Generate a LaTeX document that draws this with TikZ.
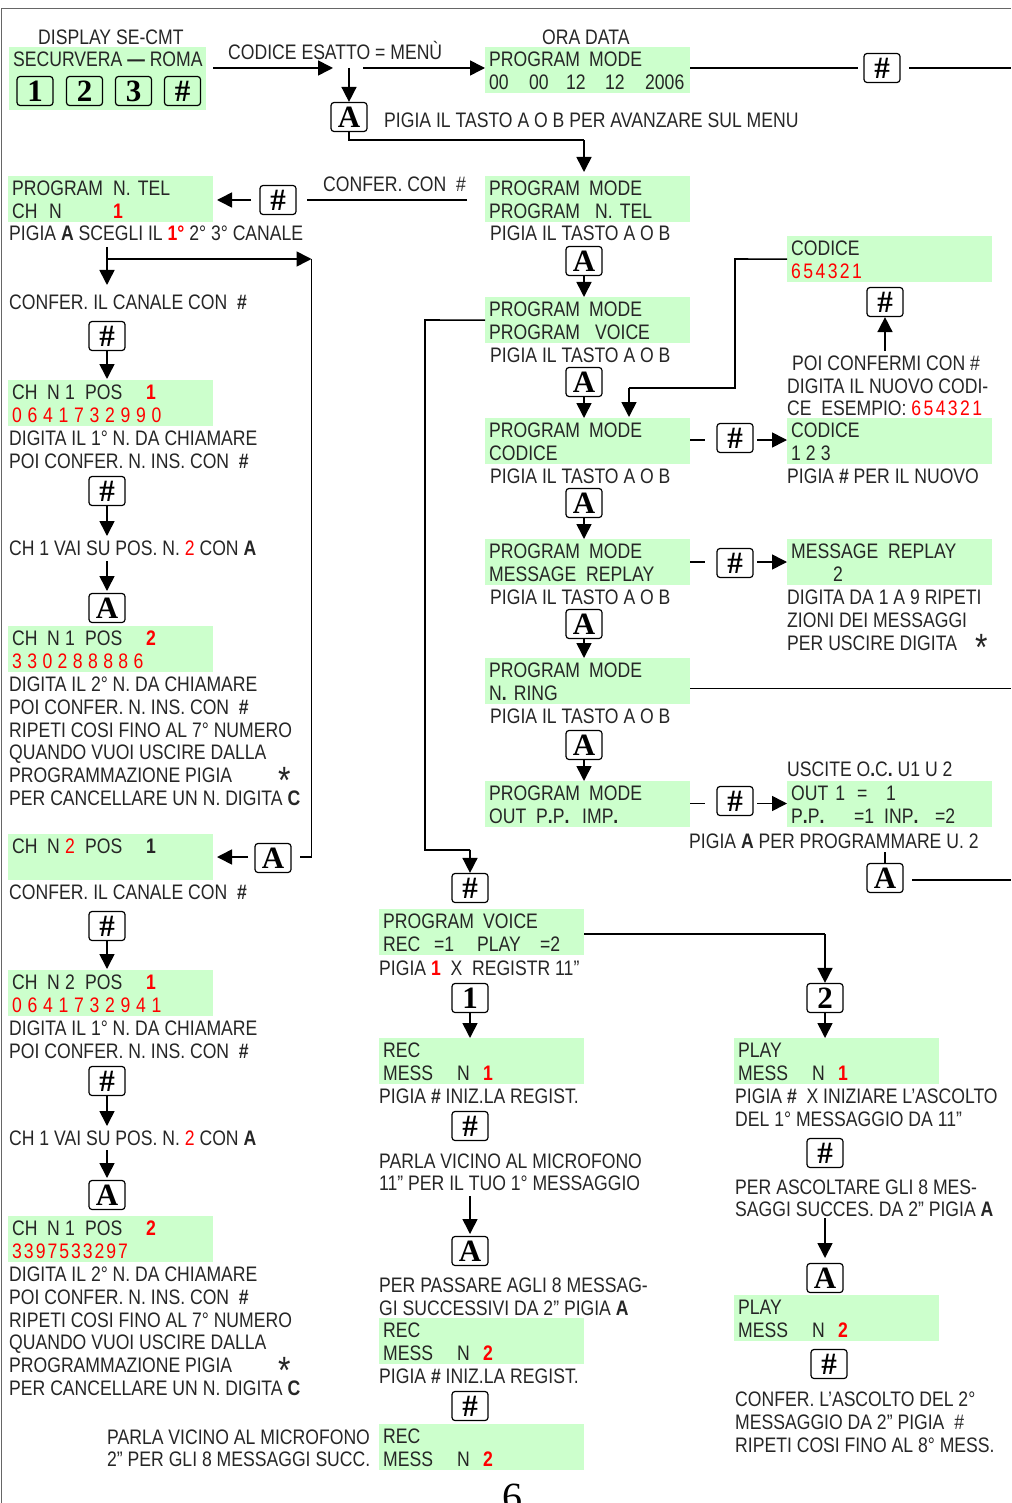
\documentclass[tikz,border=0pt]{standalone}
\usepackage{fontspec}
\usetikzlibrary{arrows.meta}
\setmainfont[FakeStretch=0.838]{Liberation Sans}
\newfontfamily\btnfont{Liberation Serif}
\definecolor{lcd}{HTML}{CCFFCC}
\definecolor{rd}{HTML}{FF0000}
\newcommand{\R}[1]{\textcolor{rd}{#1}}
\newcommand{\RB}[1]{\textcolor{rd}{\textbf{#1}}}
\newcommand{\mb}[2]{\makebox[#1pt][l]{#2}}
\newcommand{\digs}[2]{{\spaceskip=#1pt\relax\textcolor{rd}{#2}}}
\newcommand{\chl}[2]{\mb{35}{CH}\mb{18}{N}\mb{20}{#1}\mb{61}{POS}#2}
\newcommand{\bigast}{\fontsize{38}{38}\selectfont *}
\tikzset{
  x=1pt,y=-1pt,
  txt/.style={anchor=base west,inner sep=0pt,font=\fontsize{21}{23}\selectfont,text=black!85},
  lcdbox/.style={anchor=north west,inner sep=0pt,inner xsep=4pt,fill=lcd,minimum height=46pt,text width=197pt,align=left,font=\fontsize{21}{22.7}\selectfont,text=black!85},
  btn/.style={draw,line width=1.2pt,rounded corners=3pt,minimum width=36pt,minimum height=29pt,inner sep=0pt,font=\btnfont\bfseries\fontsize{31}{31}\selectfont,text=black},
  ln/.style={line width=1.6pt},
  arr/.style={line width=1.6pt,-{Triangle[length=15pt,width=15pt]}},
  frame/.style={draw=black!60,line width=0.8pt}
}
\newcommand{\T}[4]{\node[txt] (#1) at (#2,#3) {#4};}
\newcommand{\D}[5]{\node[lcdbox] (#1) at (#2,#3) {\rule{0pt}{16pt}#4\\#5};}
\newcommand{\Bt}[4]{\node[btn] (#1) at (#2,#3) {#4};}
\begin{document}
\begin{tikzpicture}
\useasboundingbox (0,0) rectangle (1011,1503);
\draw[frame] (1.5,1503) -- (1.5,8.5) -- (1011,8.5);
% top
\T{t1}{38}{45}{DISPLAY SE-CMT}
\node[lcdbox,minimum height=63pt,text width=189pt] (d0) at (9,47) {};
\T{t0}{13}{67}{SECURVERA \textbf{---} ROMA}
\Bt{b1}{35}{91}{1}\Bt{b2}{84.5}{91}{2}\Bt{b3}{133.5}{91}{3}\Bt{b4}{182.5}{91}{\#}
\T{t2}{228}{60}{CODICE ESATTO = MENÙ}
\T{t3}{542}{45}{ORA DATA}
\D{d1}{485}{47}{\mb{100}{PROGRAM}MODE}{\mb{40}{00}\mb{37}{00}\mb{39}{12}\mb{40}{12}2006}
\Bt{b5}{882}{68}{\#}
\Bt{b6}{349}{117}{A}
\T{t4}{384}{128}{PIGIA IL TASTO A O B PER AVANZARE SUL MENU}
% left col
\D{d2}{8}{176}{\mb{101}{PROGRAM}N. TEL}{\mb{37}{CH}\mb{64}{N}\RB{1}}
\Bt{b7}{278}{200}{\#}
\T{t5}{323}{192}{CONFER. CON~ \#}
\D{d3}{485}{176}{\mb{100}{PROGRAM}MODE}{\mb{106}{PROGRAM}N. TEL}
\T{t6}{9}{241}{PIGIA \textbf{A} SCEGLI IL \RB{1°} 2° 3° CANALE}
\T{t7}{9}{309}{CONFER. IL CANALE CON~ \textbf{\#}}
\Bt{b8}{107}{336}{\#}
\D{d4}{8}{380}{\chl{1}{\RB{1}}}{\digs{5.7}{0 6 4 1 7 3 2 9 9 0}}
\T{t8}{9}{445}{DIGITA IL 1° N. DA CHIAMARE}
\T{t9}{9}{468}{POI CONFER. N. INS. CON~ \textbf{\#}}
\Bt{b9}{107}{491}{\#}
\T{t10}{9}{555}{CH 1 VAI SU POS. N. \R{2} CON \textbf{A}}
\Bt{b10}{107}{608}{A}
\D{d5}{8}{626}{\chl{1}{\RB{2}}}{\digs{5.4}{3 3 0 2 8 8 8 8 6}}
\T{t11}{9}{691}{DIGITA IL 2° N. DA CHIAMARE}
\T{t12}{9}{714}{POI CONFER. N. INS. CON~ \textbf{\#}}
\T{t13}{9}{737}{RIPETI COSI FINO AL 7° NUMERO}
\T{t14}{9}{759}{QUANDO VUOI USCIRE DALLA}
\T{t15}{9}{782}{PROGRAMMAZIONE PIGIA}
\T{t16}{278}{793}{\bigast}
\T{t17}{9}{805}{PER CANCELLARE UN N. DIGITA \textbf{C}}
\D{d6}{8}{834}{\chl{\R{2}}{\textbf{1}}}{\vphantom{X}}
\Bt{b11}{273}{858}{A}
\T{t18}{9}{899}{CONFER. IL CANALE CON~ \textbf{\#}}
\Bt{b12}{107}{926}{\#}
\D{d7}{8}{970}{\chl{2}{\RB{1}}}{\digs{5.7}{0 6 4 1 7 3 2 9 4 1}}
\T{t19}{9}{1035}{DIGITA IL 1° N. DA CHIAMARE}
\T{t20}{9}{1058}{POI CONFER. N. INS. CON~ \textbf{\#}}
\Bt{b13}{107}{1081}{\#}
\T{t21}{9}{1145}{CH 1 VAI SU POS. N. \R{2} CON \textbf{A}}
\Bt{b14}{107}{1195}{A}
\D{d8}{8}{1216}{\chl{1}{\RB{2}}}{\digs{2}{3 3 9 7 5 3 3 2 9 7}}
\T{t22}{9}{1281}{DIGITA IL 2° N. DA CHIAMARE}
\T{t23}{9}{1304}{POI CONFER. N. INS. CON~ \textbf{\#}}
\T{t24}{9}{1327}{RIPETI COSI FINO AL 7° NUMERO}
\T{t25}{9}{1349}{QUANDO VUOI USCIRE DALLA}
\T{t26}{9}{1372}{PROGRAMMAZIONE PIGIA}
\T{t27}{278}{1383}{\bigast}
\T{t28}{9}{1395}{PER CANCELLARE UN N. DIGITA \textbf{C}}
\T{t29}{107}{1444}{PARLA VICINO AL MICROFONO}
\T{t30}{107}{1466}{2” PER GLI 8 MESSAGGI SUCC.}
% centre col
\T{t31}{490}{241}{PIGIA IL TASTO A O B}
\Bt{b15}{584}{261}{A}
\D{d9}{485}{297}{\mb{100}{PROGRAM}MODE}{\mb{106}{PROGRAM}VOICE}
\T{t32}{490}{362}{PIGIA IL TASTO A O B}
\Bt{b16}{584}{382}{A}
\D{d10}{485}{418}{\mb{100}{PROGRAM}MODE}{CODICE}
\T{t33}{490}{483}{PIGIA IL TASTO A O B}
\Bt{b17}{584}{503}{A}
\D{d11}{485}{539}{\mb{100}{PROGRAM}MODE}{\mb{97}{MESSAGE}REPLAY}
\T{t34}{490}{604}{PIGIA IL TASTO A O B}
\Bt{b18}{584}{624}{A}
\D{d12}{485}{658}{\mb{100}{PROGRAM}MODE}{N\textbf{.} RING}
\T{t35}{490}{723}{PIGIA IL TASTO A O B}
\Bt{b19}{584}{745}{A}
\D{d13}{485}{781}{\mb{100}{PROGRAM}MODE}{\mb{47}{OUT}\mb{46}{P\textbf{.}P\textbf{.}}IMP\textbf{.}}
% right col
\D{d14}{787}{236}{CODICE}{\digs{2.4}{6 5 4 3 2 1}}
\Bt{b20}{885}{302}{\#}
\T{t36}{792}{370}{POI CONFERMI CON \#}
\T{t37}{787}{393}{DIGITA IL NUOVO CODI-}
\T{t38}{787}{415}{CE~ ESEMPIO: \digs{2.4}{6 5 4 3 2 1}}
\Bt{b21}{735}{438}{\#}
\D{d15}{787}{418}{CODICE}{{\spaceskip=5pt\relax 1 2 3}}
\T{t39}{787}{483}{PIGIA \textbf{\#} PER IL NUOVO}
\Bt{b22}{735}{563}{\#}
\D{d16}{787}{539}{\mb{97}{MESSAGE}REPLAY}{\hspace*{42pt}2}
\T{t40}{787}{604}{DIGITA DA 1 A 9 RIPETI}
\T{t41}{787}{627}{ZIONI DEI MESSAGGI}
\T{t42}{787}{650}{PER USCIRE DIGITA}
\T{t43}{975}{660}{\bigast}
\T{t44}{787}{776}{USCITE O\textbf{.}C\textbf{.} U1 U 2}
\Bt{b23}{735}{801}{\#}
\D{d17}{787}{781}{\mb{66}{OUT 1}\mb{29}{=}1}{\mb{63}{P\textbf{.}P\textbf{.}}\mb{30}{=1}\mb{51}{INP\textbf{.}}=2}
\T{t45}{689}{848}{PIGIA \textbf{A} PER PROGRAMMARE U. 2}
\Bt{b24}{885}{878}{A}
% voice
\Bt{b25}{470}{888}{\#}
\D{d18}{379}{909}{\mb{100}{PROGRAM}VOICE}{\mb{51}{REC}\mb{43}{=1}\mb{63}{PLAY}=2}
\T{t46}{379}{975}{PIGIA \RB{1}~ X~ REGISTR 11”}
\Bt{b26}{470}{998}{1}
\Bt{b27}{825}{998}{2}
\D{d19}{379}{1038}{REC}{\mb{74}{MESS}\mb{26}{N}\RB{1}}
\D{d20}{734}{1038}{PLAY}{\mb{74}{MESS}\mb{26}{N}\RB{1}}
\T{t47}{379}{1103}{PIGIA \textbf{\#} INIZ.LA REGIST.}
\T{t48}{735}{1103}{PIGIA \textbf{\#}~ X INIZIARE L’ASCOLTO}
\T{t49}{735}{1126}{DEL 1° MESSAGGIO DA 11”}
\Bt{b28}{470}{1126}{\#}
\Bt{b29}{825}{1153}{\#}
\T{t50}{379}{1168}{PARLA VICINO AL MICROFONO}
\T{t51}{379}{1190}{11” PER IL TUO 1° MESSAGGIO}
\T{t52}{735}{1194}{PER ASCOLTARE GLI 8 MES-}
\T{t53}{735}{1216}{SAGGI SUCCES. DA 2” PIGIA \textbf{A}}
\Bt{b30}{470}{1251}{A}
\Bt{b31}{825}{1278}{A}
\T{t54}{379}{1292}{PER PASSARE AGLI 8 MESSAG-}
\T{t55}{379}{1315}{GI SUCCESSIVI DA 2” PIGIA \textbf{A}}
\D{d21}{734}{1295}{PLAY}{\mb{74}{MESS}\mb{26}{N}\RB{2}}
\D{d22}{379}{1318}{REC}{\mb{74}{MESS}\mb{26}{N}\RB{2}}
\Bt{b32}{829}{1364}{\#}
\T{t56}{379}{1383}{PIGIA \textbf{\#} INIZ.LA REGIST.}
\T{t57}{735}{1406}{CONFER. L’ASCOLTO DEL 2°}
\T{t58}{735}{1429}{MESSAGGIO DA 2” PIGIA~ \#}
\T{t59}{735}{1452}{RIPETI COSI FINO AL 8° MESS.}
\Bt{b33}{470}{1406}{\#}
\D{d23}{379}{1424}{REC}{\mb{74}{MESS}\mb{26}{N}\RB{2}}
\node[anchor=base,inner sep=0pt,font=\btnfont\fontsize{40}{40}\selectfont] (pg) at (512,1510) {6};
% junctions
\coordinate (j1) at (349,68);
\coordinate (e1) at (1011,68);
\coordinate (j2) at (349,140);
\coordinate (j3) at (584,140);
\coordinate (j4) at (107,259);
\coordinate (j5) at (311.5,259);
\coordinate (j6) at (311.5,857);
\coordinate (j7) at (425,320);
\coordinate (j8) at (425,850);
\coordinate (j9) at (470,850);
\coordinate (j10) at (735,259);
\coordinate (j11) at (735,388);
\coordinate (j12) at (629,388);
\coordinate (j13) at (584,934);
\coordinate (j14) at (825,934);
\coordinate (e2) at (1011,688.5);
\coordinate (e3) at (1011,880);
% connectors
\draw[arr] (213,68) -- (333,68);
\draw[arr] (363,68) -- (d1.west |- j1);
\draw[arr] (j1) -- (b6.north);
\draw[ln] (690,68) -- (858,68);
\draw[ln] (909,68) -- (e1);
\draw[ln] (b6.south) -- (j2) -- (j3);
\draw[arr] (j3) -- (584,172);
\draw[ln] (467,200) -- (307,200);
\draw[arr] (251,200) -- (217,200);
\draw[arr] (107,247) -- (107,285);
\draw[arr] (j4) -- (j5);
\draw[ln] (j5) -- (j6) -- (300,857);
\draw[arr] (248,857) -- (217,857);
\draw[arr] (b8.south) -- (107,379);
\draw[arr] (b9.south) -- (107,536);
\draw[arr] (107,561) -- (107,591);
\draw[arr] (b12.south) -- (107,969);
\draw[arr] (b13.south) -- (107,1126);
\draw[arr] (107,1150) -- (107,1178);
\foreach \a/\b in {b15/d9,b16/d10,b17/d11,b18/d12,b19/d13}
  \draw[arr] (\a.south) -- (\a.south |- \b.north);
\draw[ln] (d9.west) -- (j7) -- (j8) -- (j9);
\draw[arr] (j9) -- (b25.north);
\draw[ln] (d14.west) -- (j10) -- (j11) -- (j12);
\draw[arr] (j12) -- (629,417);
\draw[arr] (885,351) -- (b20.south);
\draw[ln] (690,440) -- (705,440);
\draw[arr] (757,440) -- (787,440);
\draw[ln] (690,562) -- (705,562);
\draw[arr] (757,562) -- (787,562);
\draw[ln] (690,803.5) -- (705,803.5);
\draw[arr] (757,803.5) -- (787,803.5);
\draw[ln] (690,688.5) -- (e2);
\draw[ln] (885,852) -- (b24.north);
\draw[ln] (912,880) -- (e3);
\draw[ln] (j13) -- (j14);
\draw[arr] (j14) -- (b27.north);
\draw[arr] (b26.south) -- (d19.north -| b26);
\draw[arr] (b27.south) -- (d20.north -| b27);
\draw[arr] (470,1196) -- (470,1234);
\draw[arr] (825,1218) -- (825,1258);
\end{tikzpicture}
\end{document}
